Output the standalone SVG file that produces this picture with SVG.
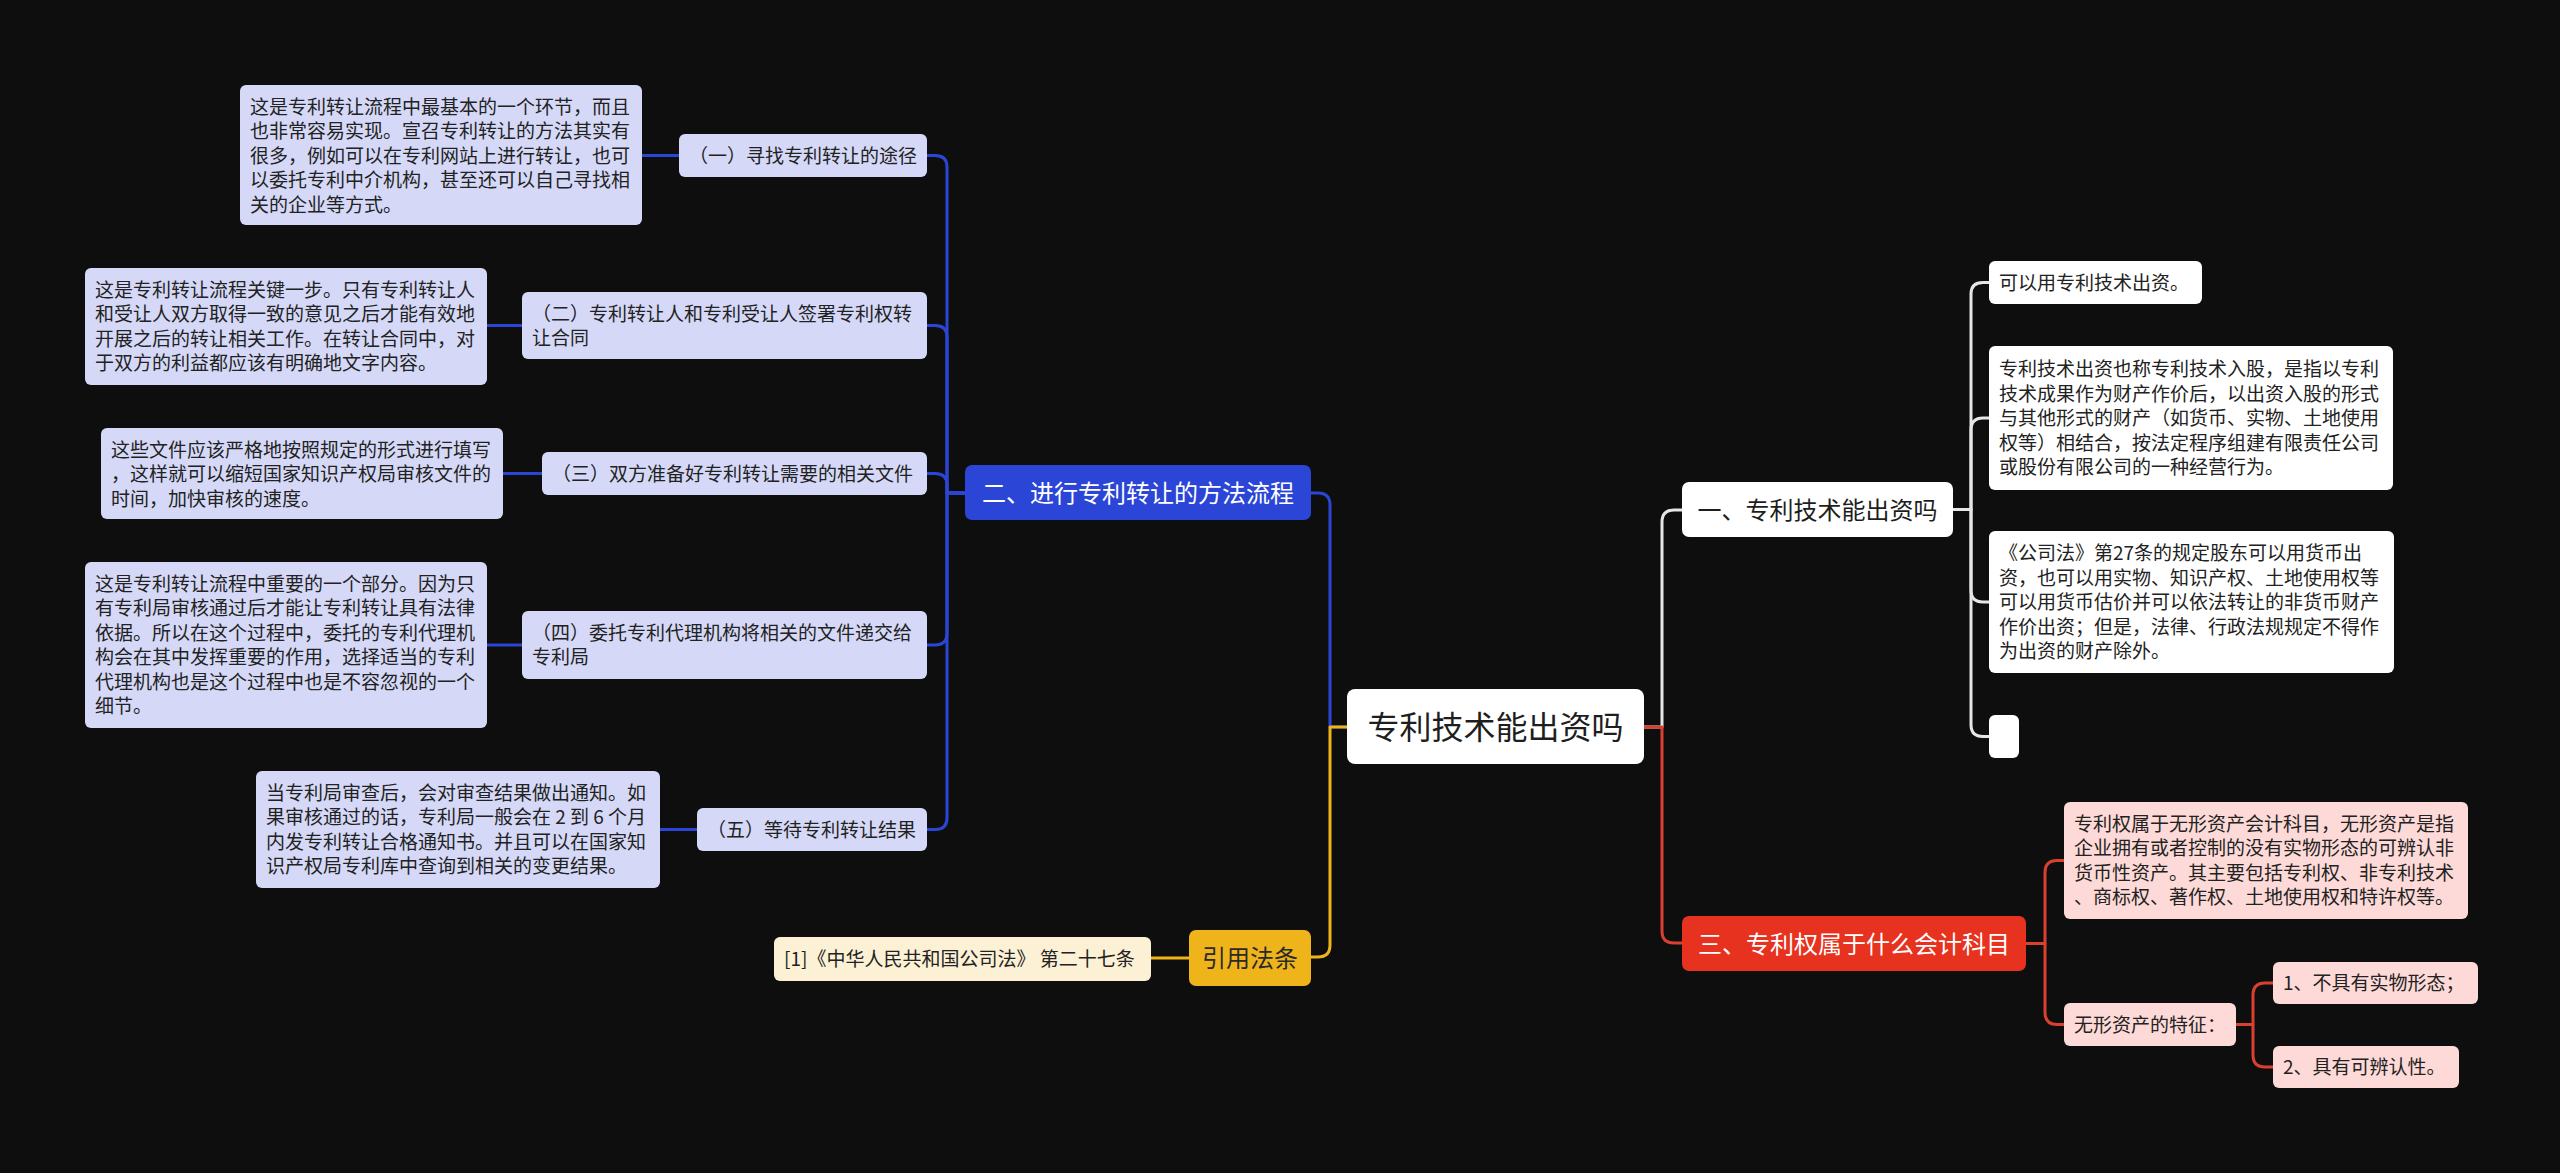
<svg xmlns="http://www.w3.org/2000/svg" width="2560" height="1173" viewBox="0 0 2560 1173">
<style>
text{font-family:"Noto Sans CJK SC","Noto Sans",sans-serif;}
.t{font-size:19px;fill:#222;}
.tw{font-size:19px;fill:#222;}
.big{font-size:24px;}
.lav{fill:#D5D9F7;}
.cream{fill:#FCF1D4;}
.pink{fill:#FDDAD7;}
.wh{fill:#FFFFFF;}
.cb{stroke:#2B46D6;}
.cy{stroke:#F0B41B;}
.cr{stroke:#D9402F;}
.cw{stroke:#E6E6E6;}
#connectors path{fill:none;stroke-width:3;stroke-linecap:round;stroke-linejoin:round;}
</style>
<rect x="0" y="0" width="2560" height="1173" fill="#0E0E0E"/>
<g id="connectors">
<path class="cb" d="M1347,727 H1330 V505 Q1330,493 1318,493 H1311"/>
<path class="cy" d="M1347,727 H1330 V945 Q1330,957 1318,957 H1311"/>
<path class="cw" d="M1644,727 H1662 V522 Q1662,510 1674,510 H1682"/>
<path class="cr" d="M1644,727 H1662 V931 Q1662,943 1674,943 H1682"/>
<path class="cb" d="M965,493 H947 V167 Q947,155.5 935,155.5 H927"/>
<path class="cb" d="M965,493 H947 V337 Q947,325.5 935,325.5 H927"/>
<path class="cb" d="M965,493 H947 V485 Q947,473.5 935,473.5 H927"/>
<path class="cb" d="M965,493 H947 V633 Q947,645 935,645 H927"/>
<path class="cb" d="M965,493 H947 V818 Q947,829.5 935,829.5 H927"/>
<path class="cb" d="M642,155.5 H679"/>
<path class="cb" d="M487,325.5 H522"/>
<path class="cb" d="M503,473.5 H542"/>
<path class="cb" d="M487,645 H522"/>
<path class="cb" d="M660,829.5 H697"/>
<path class="cy" d="M1189,958 H1151"/>
<path class="cw" d="M1953,509.5 H1971 V294 Q1971,282.5 1983,282.5 H1989"/>
<path class="cw" d="M1953,509.5 H1971 V430 Q1971,418 1983,418 H1989"/>
<path class="cw" d="M1953,509.5 H1971 V590 Q1971,602 1983,602 H1989"/>
<path class="cw" d="M1953,509.5 H1971 V724.5 Q1971,736.5 1983,736.5 H1989"/>
<path class="cr" d="M2026,943.5 H2045 V872.5 Q2045,860.5 2057,860.5 H2064"/>
<path class="cr" d="M2026,943.5 H2045 V1012.5 Q2045,1024.5 2057,1024.5 H2064"/>
<path class="cr" d="M2236,1024.5 H2253 V995 Q2253,983 2265,983 H2273"/>
<path class="cr" d="M2236,1024.5 H2253 V1055 Q2253,1067 2265,1067 H2273"/>
</g>
<g id="root">
<rect class="wh" x="1347" y="689" width="297" height="75" rx="8"/>
<text x="1495.5" y="738.5" text-anchor="middle" style="font-size:32px;fill:#1E1E1E">专利技术能出资吗</text>
</g>
<g id="branch-method">
<rect x="965" y="465" width="346" height="55" rx="7" fill="#2B46D6"/>
<text class="big" x="1138" y="501.5" text-anchor="middle" fill="#FFFFFF">二、进行专利转让的方法流程</text>
</g>
<g id="step1">
<rect class="lav" x="679" y="134" width="248" height="43" rx="6"/>
<text class="t" x="689" y="162.5">（一）寻找专利转让的途径</text>
</g>
<g id="step1-detail">
<rect class="lav" x="240" y="85" width="402" height="140" rx="6"/>
<text class="t" x="250" y="113.5">这是专利转让流程中最基本的一个环节，而且</text>
<text class="t" x="250" y="138">也非常容易实现。宣召专利转让的方法其实有</text>
<text class="t" x="250" y="162.5">很多，例如可以在专利网站上进行转让，也可</text>
<text class="t" x="250" y="187">以委托专利中介机构，甚至还可以自己寻找相</text>
<text class="t" x="250" y="211.5">关的企业等方式。</text>
</g>
<g id="step2">
<rect class="lav" x="522" y="292" width="405" height="67" rx="6"/>
<text class="t" x="532" y="320.5">（二）专利转让人和专利受让人签署专利权转</text>
<text class="t" x="532" y="345">让合同</text>
</g>
<g id="step2-detail">
<rect class="lav" x="85" y="268" width="402" height="117" rx="6"/>
<text class="t" x="95" y="296.5">这是专利转让流程关键一步。只有专利转让人</text>
<text class="t" x="95" y="321">和受让人双方取得一致的意见之后才能有效地</text>
<text class="t" x="95" y="345.5">开展之后的转让相关工作。在转让合同中，对</text>
<text class="t" x="95" y="370">于双方的利益都应该有明确地文字内容。</text>
</g>
<g id="step3">
<rect class="lav" x="542" y="452" width="385" height="43" rx="6"/>
<text class="t" x="552" y="480.5">（三）双方准备好专利转让需要的相关文件</text>
</g>
<g id="step3-detail">
<rect class="lav" x="101" y="428" width="402" height="91" rx="6"/>
<text class="t" x="111" y="456.5">这些文件应该严格地按照规定的形式进行填写</text>
<text class="t" x="111" y="481">，这样就可以缩短国家知识产权局审核文件的</text>
<text class="t" x="111" y="505.5">时间，加快审核的速度。</text>
</g>
<g id="step4">
<rect class="lav" x="522" y="611" width="405" height="68" rx="6"/>
<text class="t" x="532" y="639.5">（四）委托专利代理机构将相关的文件递交给</text>
<text class="t" x="532" y="664">专利局</text>
</g>
<g id="step4-detail">
<rect class="lav" x="85" y="562" width="402" height="166" rx="6"/>
<text class="t" x="95" y="590.5">这是专利转让流程中重要的一个部分。因为只</text>
<text class="t" x="95" y="615">有专利局审核通过后才能让专利转让具有法律</text>
<text class="t" x="95" y="639.5">依据。所以在这个过程中，委托的专利代理机</text>
<text class="t" x="95" y="664">构会在其中发挥重要的作用，选择适当的专利</text>
<text class="t" x="95" y="688.5">代理机构也是这个过程中也是不容忽视的一个</text>
<text class="t" x="95" y="713">细节。</text>
</g>
<g id="step5">
<rect class="lav" x="697" y="808" width="230" height="43" rx="6"/>
<text class="t" x="707" y="836.5">（五）等待专利转让结果</text>
</g>
<g id="step5-detail">
<rect class="lav" x="256" y="771" width="404" height="117" rx="6"/>
<text class="t" x="266" y="799.5">当专利局审查后，会对审查结果做出通知。如</text>
<text class="t" x="266" y="824">果审核通过的话，专利局一般会在 2 到 6 个月</text>
<text class="t" x="266" y="848.5">内发专利转让合格通知书。并且可以在国家知</text>
<text class="t" x="266" y="873">识产权局专利库中查询到相关的变更结果。</text>
</g>
<g id="branch-law">
<rect x="1189" y="930" width="122" height="56" rx="7" fill="#F0B41B"/>
<text class="big" x="1250" y="967" text-anchor="middle" fill="#2A2A2A">引用法条</text>
</g>
<g id="law-1">
<rect class="cream" x="774" y="937" width="377" height="44" rx="6"/>
<text class="t" x="784" y="966">[1]《中华人民共和国公司法》 第二十七条</text>
</g>
<g id="branch-invest">
<rect class="wh" x="1682" y="482" width="271" height="55" rx="7"/>
<text class="big" x="1817.5" y="518.5" text-anchor="middle" fill="#1E1E1E">一、专利技术能出资吗</text>
</g>
<g id="invest-a">
<rect class="wh" x="1989" y="261" width="213" height="43" rx="6"/>
<text class="t" x="1999" y="289.5">可以用专利技术出资。</text>
</g>
<g id="invest-b">
<rect class="wh" x="1989" y="346" width="404" height="144" rx="6"/>
<text class="t" x="1999" y="376">专利技术出资也称专利技术入股，是指以专利</text>
<text class="t" x="1999" y="400.5">技术成果作为财产作价后，以出资入股的形式</text>
<text class="t" x="1999" y="425">与其他形式的财产（如货币、实物、土地使用</text>
<text class="t" x="1999" y="449.5">权等）相结合，按法定程序组建有限责任公司</text>
<text class="t" x="1999" y="474">或股份有限公司的一种经营行为。</text>
</g>
<g id="invest-c">
<rect class="wh" x="1989" y="531" width="405" height="142" rx="6"/>
<text class="t" x="1999" y="560">《公司法》第27条的规定股东可以用货币出</text>
<text class="t" x="1999" y="584.5">资，也可以用实物、知识产权、土地使用权等</text>
<text class="t" x="1999" y="609">可以用货币估价并可以依法转让的非货币财产</text>
<text class="t" x="1999" y="633.5">作价出资；但是，法律、行政法规规定不得作</text>
<text class="t" x="1999" y="658">为出资的财产除外。</text>
</g>
<g id="invest-d">
<rect class="wh" x="1989" y="715" width="30" height="43" rx="6"/>
</g>
<g id="branch-account">
<rect x="1682" y="916" width="344" height="55" rx="7" fill="#E6321E"/>
<text class="big" x="1854" y="952.5" text-anchor="middle" fill="#FFFFFF">三、专利权属于什么会计科目</text>
</g>
<g id="account-e">
<rect class="pink" x="2064" y="802" width="404" height="117" rx="6"/>
<text class="t" x="2074" y="830.5">专利权属于无形资产会计科目，无形资产是指</text>
<text class="t" x="2074" y="855">企业拥有或者控制的没有实物形态的可辨认非</text>
<text class="t" x="2074" y="879.5">货币性资产。其主要包括专利权、非专利技术</text>
<text class="t" x="2074" y="904">、商标权、著作权、土地使用权和特许权等。</text>
</g>
<g id="account-f">
<rect class="pink" x="2064" y="1003" width="172" height="43" rx="6"/>
<text class="t" x="2074" y="1031.5">无形资产的特征：</text>
</g>
<g id="account-g">
<rect class="pink" x="2273" y="962" width="205" height="42" rx="6"/>
<text class="t" x="2283" y="990">1、不具有实物形态；</text>
</g>
<g id="account-h">
<rect class="pink" x="2273" y="1046" width="186" height="42" rx="6"/>
<text class="t" x="2283" y="1074">2、具有可辨认性。</text>
</g>
</svg>
